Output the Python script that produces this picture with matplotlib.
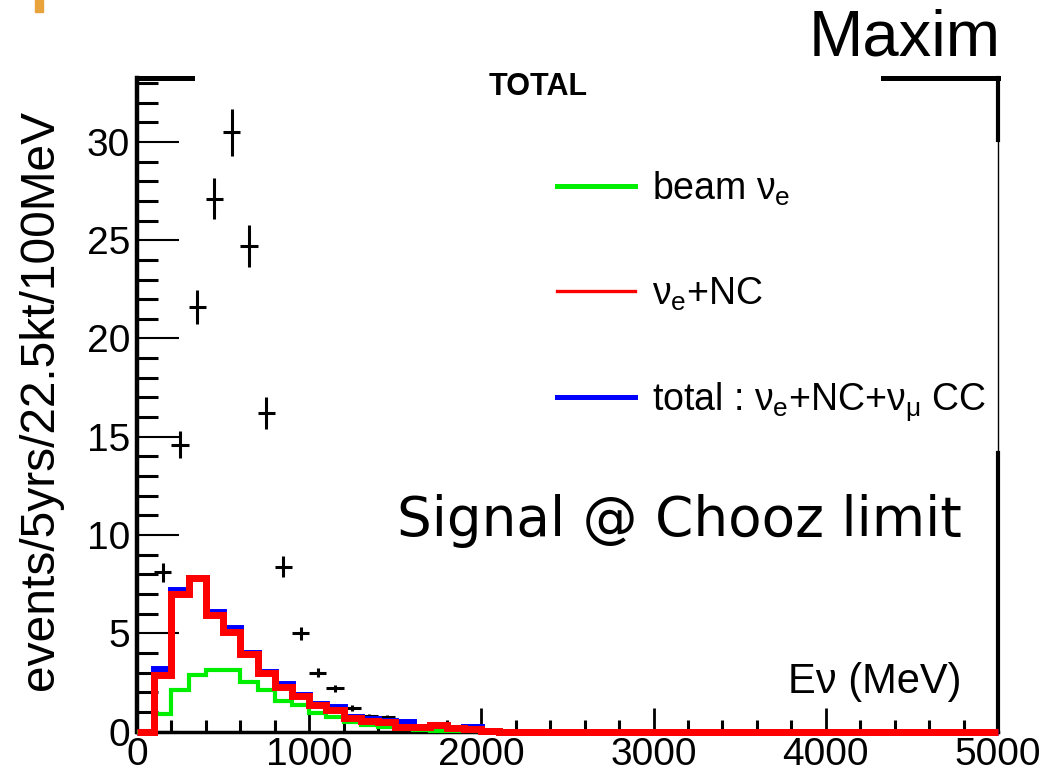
import matplotlib
matplotlib.use("Agg")
import matplotlib.pyplot as plt
from matplotlib.lines import Line2D
from matplotlib.patches import Rectangle
import numpy as np

plt.rcParams['font.family'] = ['Liberation Sans', 'DejaVu Sans']
plt.rcParams['mathtext.fontset'] = 'custom'
plt.rcParams['mathtext.rm'] = 'Liberation Sans'
plt.rcParams['mathtext.it'] = 'Liberation Sans'

# histogram bins, 100 MeV wide up to 2100 MeV, last bin empty up to 5000
bin_edges = [0, 100, 200, 300, 400, 500, 600, 700, 800, 900, 1000, 1100,
             1200, 1300, 1400, 1500, 1600, 1700, 1800, 1900, 2000, 2100, 5000]

beam_nue = [0, 0.92, 2.1, 2.9, 3.15, 3.15, 2.55, 2.1, 1.55, 1.35, 0.93,
            0.75, 0.5, 0.35, 0.22, 0.12, 0.08, 0.05, 0.05, 0.03, 0.03, 0]
nue_nc = [0, 2.9, 7.0, 7.8, 5.95, 5.05, 3.95, 3.0, 2.25, 1.82, 1.37,
          1.12, 0.68, 0.55, 0.5, 0.25, 0.22, 0.32, 0.18, 0.12, 0.05, 0]
total = [0, 3.2, 7.2, 7.8, 6.1, 5.25, 3.98, 3.02, 2.4, 1.85, 1.4,
         1.27, 0.72, 0.66, 0.55, 0.5, 0.25, 0.35, 0.2, 0.22, 0.05, 0]

# signal points (crosses)
sig_e = [150, 250, 350, 450, 550, 650, 750, 850, 950, 1050, 1150, 1250, 1350, 1450, 1750]
sig_n = [8.1, 14.6, 21.6, 27.1, 30.5, 24.7, 16.2, 8.4, 5.0, 3.0, 2.2, 1.2, 0.8, 0.75, 0.42]
sig_err = [0.5, 0.7, 0.87, 1.04, 1.2, 1.06, 0.8, 0.55, 0.34, 0.22, 0.18, 0.15, 0.1, 0.1, 0.08]

fig = plt.figure(figsize=(10.45, 7.78), dpi=100)
ax = fig.add_axes([0.1311, 0.0596, 0.8239, 0.8401])

ax.errorbar(sig_e, sig_n, yerr=sig_err, xerr=50, fmt='none', ecolor='black',
            elinewidth=2.2, capsize=0, zorder=2)

ax.stairs(total, bin_edges, color='#0000ff', lw=5, zorder=3, clip_on=False)
ax.stairs(beam_nue, bin_edges, color='#00ee00', lw=3, zorder=4, clip_on=False)
ax.stairs(nue_nc, bin_edges, color='#ff0000', lw=5, zorder=5, clip_on=False)

ax.set_xlim(0, 5000)
ax.set_ylim(0, 33.25)
ax.set_xticks([0, 1000, 2000, 3000, 4000, 5000])
ax.set_xticks(np.arange(0, 5001, 200), minor=True)
ax.set_yticks([0, 5, 10, 15, 20, 25, 30])
ax.set_yticks(np.arange(0, 34, 1), minor=True)

ax.tick_params(axis='y', which='major', direction='in', length=30, width=1.5,
               labelsize=28, pad=5)
ax.tick_params(axis='y', which='minor', direction='in', length=15, width=2.2)
ax.tick_params(axis='x', which='major', direction='in', length=17, width=2.0,
               labelsize=28, pad=4)
ax.tick_params(axis='x', which='minor', direction='in', length=9, width=2.2)

ax.spines['left'].set_linewidth(3.2)
ax.spines['bottom'].set_linewidth(2.5)
ax.spines['top'].set_visible(False)
ax.spines['right'].set_visible(False)

# frame pieces left visible around the title and legend boxes
ax.plot([0, 0.064], [1, 1], color='black', lw=3.6, transform=ax.transAxes, clip_on=False)
ax.plot([0.866, 1.0], [1, 1], color='black', lw=3.6, transform=ax.transAxes, clip_on=False)
ax.plot([1, 1], [1, 0.905], color='black', lw=3.0, transform=ax.transAxes, clip_on=False)
ax.plot([1, 1], [0.905, 0.426], color='black', lw=1.0, transform=ax.transAxes, clip_on=False)
ax.plot([1, 1], [0.426, 0], color='black', lw=3.0, transform=ax.transAxes, clip_on=False)

handles = [
    Line2D([], [], color='#00ee00', lw=3.6),
    Line2D([], [], color='#ff0000', lw=2.4),
    Line2D([], [], color='#0000ff', lw=3.6),
]
labels = [r'beam $\nu_{e}$', r'$\nu_{e}$+NC', r'total : $\nu_{e}$+NC+$\nu_{\mu}$ CC']
ax.legend(handles, labels, loc='upper left', bbox_to_anchor=(0.488, 0.86),
          frameon=False, fontsize=27, handlelength=2.08, handletextpad=0.45,
          labelspacing=1.8, borderpad=0, borderaxespad=0)

fig.text(538 / 1045, 1 - 87 / 778, 'TOTAL', fontsize=22, fontweight='bold',
         ha='center', va='center')
fig.text(905 / 1045, 1 - 38 / 778, 'Maxim', fontsize=47, ha='center', va='center')
fig.text(397 / 1045, 1 - 536 / 778, 'Signal @ Chooz limit', fontsize=39.5,
         family='DejaVu Sans', ha='left', va='baseline')
fig.text(961 / 1045, 1 - 693 / 778, 'E\u03bd (MeV)', fontsize=30,
         ha='right', va='baseline')
fig.text(41 / 1045, 1 - 400 / 778, 'events/5yrs/22.5kt/100MeV', fontsize=34.5,
         rotation=90, ha='center', va='center')
fig.patches.append(Rectangle((35 / 1045, 1 - 12 / 778), 8 / 1045, 12 / 778,
                             transform=fig.transFigure, color='#e8a33d'))

fig.savefig('out.png', dpi=100)
